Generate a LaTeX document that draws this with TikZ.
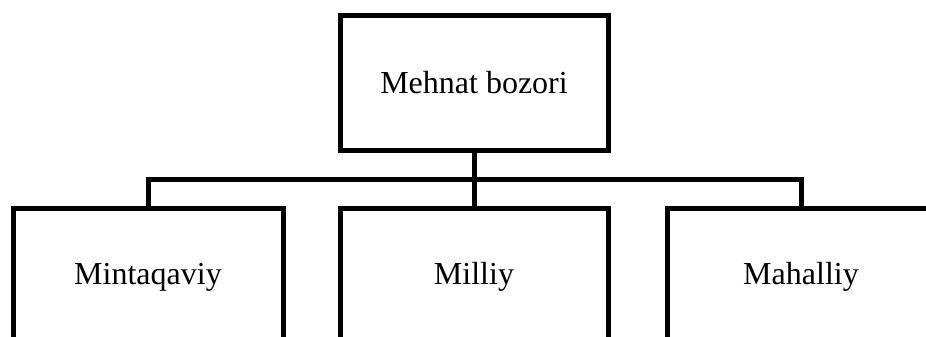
\documentclass[tikz,border=0pt]{standalone}
\usepackage{fontspec}
\setmainfont{Liberation Serif}
\begin{document}
\begin{tikzpicture}[x=1pt,y=-1pt,
  boxnode/.style={draw=black,line width=5pt,rectangle,minimum width=268pt,minimum height=138pt,inner sep=0pt,font=\fontsize{32}{38}\selectfont},
  conn/.style={draw=black,line width=5pt,line join=miter}]
\useasboundingbox (0,0) rectangle (926,337);
\clip (0,0) rectangle (926,337);
\node[boxnode,minimum height=134pt] (top) at (474,83) {Mehnat bozori};
\node[boxnode,minimum width=270pt] (left) at (148,277) {Mintaqaviy};
\node[boxnode] (mid) at (474,277) {Milliy};
\node[boxnode] (right) at (801,277) {Mahalliy};
\coordinate (j) at (474,179);
\draw[conn] (left.north) |- (j) -| (right.north);
\draw[conn] (top.south) -- (mid.north);
\end{tikzpicture}
\end{document}
